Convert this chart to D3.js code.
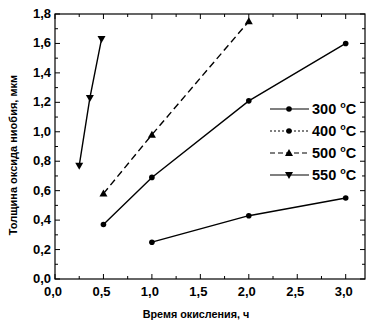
<!DOCTYPE html>
<html><head><meta charset="utf-8">
<script src="https://cdn.jsdelivr.net/npm/d3@7"></script>
<style>body{margin:0;background:#fff}svg{display:block}</style>
</head><body><svg id="c" width="368" height="325"></svg>
<script>
const xTicks = [0, 0.5, 1.0, 1.5, 2.0, 2.5, 3.0];
const yTicks = [0, 0.2, 0.4, 0.6, 0.8, 1.0, 1.2, 1.4, 1.6, 1.8];
const seriesNames = ["300", "400", "500", "550"];
const t300 = [1.0, 2.0, 3.0];
const v300 = [0.25, 0.43, 0.55];
const t400 = [0.5, 1.0, 2.0, 3.0];
const v400 = [0.37, 0.69, 1.21, 1.60];
const t500 = [0.5, 1.0, 2.0];
const v500 = [0.58, 0.98, 1.75];
const t550 = [0.25, 0.36, 0.48];
const v550 = [0.77, 1.23, 1.63];

const svg = d3.select("#c");
const L = 55, R = 365, T = 14, B = 279;
const x = d3.scaleLinear().domain([0, 3.2]).range([L, L + 3.2 * (345.7 - 55) / 3]);
const y = d3.scaleLinear().domain([0, 1.8]).range([B, T]);
const font = "'Liberation Sans', Arial, sans-serif";

// frame
svg.append("rect").attr("x", L).attr("y", T).attr("width", R - L).attr("height", B - T)
  .attr("fill", "none").attr("stroke", "#000").attr("stroke-width", 1.2);

const xMinor = d3.range(0, 3.21, 0.25);
const yMinor = d3.range(0, 1.81, 0.1);
const g = svg.append("g").attr("stroke", "#000").attr("stroke-width", 1);
xMinor.forEach(v => {
  const major = Math.abs(v * 2 - Math.round(v * 2)) < 1e-6;
  const len = major ? 5 : 3;
  g.append("line").attr("x1", x(v)).attr("x2", x(v)).attr("y1", B).attr("y2", B - len);
  g.append("line").attr("x1", x(v)).attr("x2", x(v)).attr("y1", T).attr("y2", T + len);
});
yMinor.forEach(v => {
  const major = Math.abs(v * 5 - Math.round(v * 5)) < 1e-6;
  const len = major ? 5 : 3;
  g.append("line").attr("x1", L).attr("x2", L + len).attr("y1", y(v)).attr("y2", y(v));
  g.append("line").attr("x1", R).attr("x2", R - len).attr("y1", y(v)).attr("y2", y(v));
});

const fmt = v => v.toFixed(1).replace(".", ",");
svg.append("g").selectAll("text").data(xTicks).join("text")
  .attr("x", d => x(d) - 2).attr("y", 296).attr("text-anchor", "middle")
  .attr("font-family", font).attr("font-weight", "bold").attr("font-size", 13)
  .text(fmt);
svg.append("g").selectAll("text").data(yTicks).join("text")
  .attr("x", 51).attr("y", d => y(d) + 4).attr("text-anchor", "end")
  .attr("font-family", font).attr("font-weight", "bold").attr("font-size", 13)
  .text(fmt);

svg.append("text").attr("x", 196).attr("y", 318).attr("text-anchor", "middle")
  .attr("font-family", font).attr("font-weight", "bold").attr("font-size", 10.8)
  .text("Время окисления, ч");
svg.append("text").attr("transform", "translate(17,155) rotate(-90)").attr("text-anchor", "middle")
  .attr("font-family", font).attr("font-weight", "bold").attr("font-size", 11)
  .text("Толщина оксида ниобия, мкм");

const series = [
  {name: seriesNames[0], t: t300, v: v300, dash: null, legDash: null, sym: "circle"},
  {name: seriesNames[1], t: t400, v: v400, dash: null, legDash: "2,2", sym: "circle"},
  {name: seriesNames[2], t: t500, v: v500, dash: "7,4", legDash: "5,3", sym: "up"},
  {name: seriesNames[3], t: t550, v: v550, dash: null, legDash: null, sym: "down"}
];
const line = d3.line().x(d => x(d[0])).y(d => y(d[1]));
function marker(sel, sym, cx, cy) {
  if (sym === "circle") sel.append("circle").attr("cx", cx).attr("cy", cy).attr("r", 2.8).attr("fill", "#000");
  else if (sym === "up") sel.append("path").attr("d", `M${cx},${cy-4}L${cx+4},${cy+3}L${cx-4},${cy+3}Z`).attr("fill", "#000");
  else sel.append("path").attr("d", `M${cx},${cy+4}L${cx+4},${cy-3}L${cx-4},${cy-3}Z`).attr("fill", "#000");
}
series.forEach(s => {
  const pts = s.t.map((t, i) => [t, s.v[i]]);
  svg.append("path").attr("d", line(pts)).attr("fill", "none").attr("stroke", "#000")
    .attr("stroke-width", 1.4).attr("stroke-dasharray", s.dash);
  const gm = svg.append("g");
  pts.forEach(p => marker(gm, s.sym, x(p[0]), y(p[1])));
});

// legend
series.forEach((s, i) => {
  const ly = 109 + i * 22;
  svg.append("line").attr("x1", 270).attr("x2", 309).attr("y1", ly).attr("y2", ly)
    .attr("stroke", "#000").attr("stroke-width", 1.2).attr("stroke-dasharray", s.legDash);
  marker(svg, s.sym, 289, ly);
  const tx = svg.append("text").attr("x", 312).attr("y", ly + 5)
    .attr("font-family", font).attr("font-weight", "bold").attr("font-size", 14.5);
  tx.append("tspan").text(s.name + " ");
  tx.append("tspan").attr("font-size", 9).attr("dy", -6).text("o");
  tx.append("tspan").attr("dy", 6).text("C");
});
</script></body></html>
